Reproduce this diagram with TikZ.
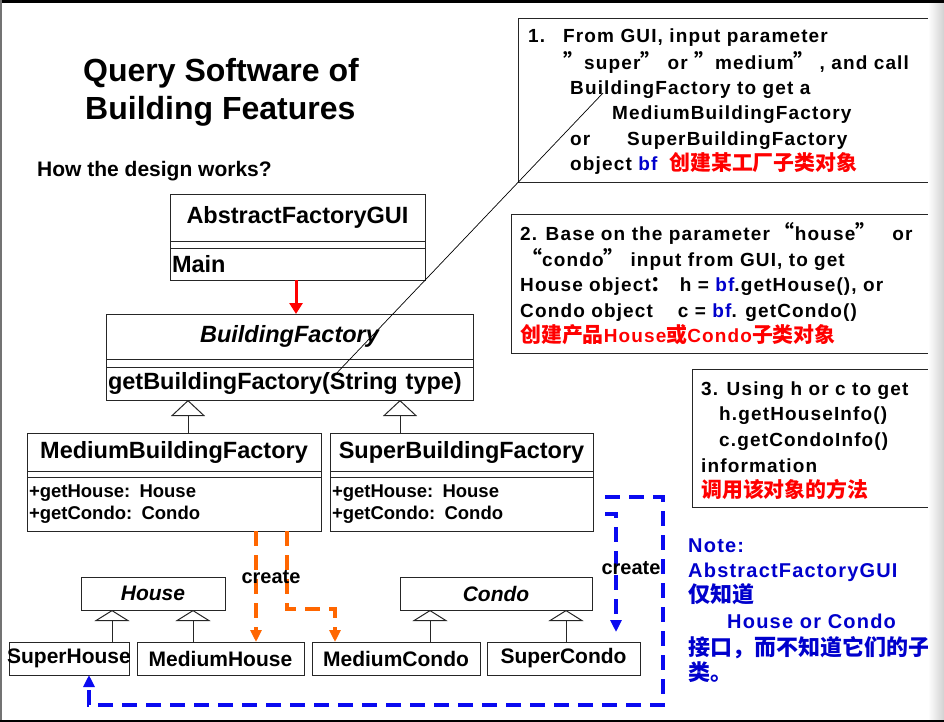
\documentclass[tikz,border=0pt]{standalone}
\usepackage{fontspec}
\setmainfont{Liberation Sans}
\newfontfamily\boxfont{Liberation Sans}[LetterSpace=6]
\newfontfamily\cjk{Noto Sans CJK SC}[Scale=1.1]
\usetikzlibrary{arrows.meta,positioning}
\definecolor{orangeline}{RGB}{255,102,0}
\definecolor{linkblue}{RGB}{10,10,240}
\definecolor{notblue}{RGB}{0,0,204}
\newcommand{\fsz}[1]{\fontsize{#1}{#1}\selectfont}

\begin{document}
\begin{tikzpicture}[x=1pt,y=-1pt]
\tikzstyle{classname}=[draw=black!85,line width=0.9pt,inner sep=0pt,outer sep=0pt,anchor=north west,font=\bfseries\fsz{23.5}]
\tikzstyle{classbody}=[draw=black!85,line width=0.9pt,inner xsep=2pt,inner ysep=0pt,outer sep=0pt,align=left,font=\bfseries\fsz{23.5}]
\tikzstyle{smallclass}=[draw=black!85,line width=0.9pt,inner sep=0pt,outer sep=0pt,anchor=north west,minimum height=33pt,font=\bfseries\fsz{21}]
\tikzstyle{inherit}=[draw=black!85,line width=1pt,-{Triangle[open,length=16pt,width=34pt]}]
\tikzstyle{inheritsm}=[draw=black!85,line width=1pt,-{Triangle[open,length=11pt,width=35pt]}]
\tikzstyle{makeor}=[orangeline,line width=3.6pt,dash pattern=on 15pt off 9pt,-{Triangle[length=12pt,width=11pt]}]
\tikzstyle{makebl}=[linkblue,line width=3.6pt,dash pattern=on 15pt off 9pt,-{Triangle[length=12pt,width=11pt]}]
\tikzstyle{textbox}=[draw=black!85,line width=0.9pt,anchor=north west,inner sep=0pt]
\tikzstyle{boxtxt}=[anchor=base west,inner sep=0pt,font=\boxfont\bfseries\fsz{19}]
\tikzstyle{notetxt}=[anchor=base west,inner sep=0pt,text=notblue,font=\boxfont\bfseries\fsz{20}]

\useasboundingbox (0,0) rectangle (944,722);

\node at (83,82) [anchor=base west,inner sep=0pt,font=\bfseries\fsz{32}] (title1) {Query Software of};
\node at (85,120) [anchor=base west,inner sep=0pt,font=\bfseries\fsz{32}] (title2) {Building Features};
\node at (37,176) [anchor=base west,inner sep=0pt,font=\bfseries\fsz{21}] (howtxt) {How the design works?};

% classes
\node at (170,194) [classname,minimum width=255pt,minimum height=47pt] (agui) {AbstractFactoryGUI};
\node [classbody,below=7pt of agui,text width=251pt,minimum height=32pt] (aguib) {Main};
\draw[draw=black!85,line width=0.9pt] (agui.south west) -- (aguib.north west) (agui.south east) -- (aguib.north east);

\node at (106,314) [classname,minimum width=367pt,minimum height=45pt] (bf) {\itshape BuildingFactory};
\node [classbody,below=8pt of bf,text width=363pt,minimum height=33pt] (bfb) {getBuildingFactory(String type)};
\draw[draw=black!85,line width=0.9pt] (bf.south west) -- (bfb.north west) (bf.south east) -- (bfb.north east);

\node at (27,433) [classname,minimum width=294pt,minimum height=38pt] (mbf) {MediumBuildingFactory};
\node [classbody,below=6pt of mbf,text width=290pt,minimum height=54pt,font=\bfseries\fontsize{18.5}{22}\selectfont] (mbfb) {+getHouse: House\\+getCondo: Condo};
\draw[draw=black!85,line width=0.9pt] (mbf.south west) -- (mbfb.north west) (mbf.south east) -- (mbfb.north east);

\node at (330,433) [classname,minimum width=263pt,minimum height=38pt] (sbf) {SuperBuildingFactory};
\node [classbody,below=6pt of sbf,text width=259pt,minimum height=54pt,font=\bfseries\fontsize{18.5}{22}\selectfont] (sbfb) {+getHouse: House\\+getCondo: Condo};
\draw[draw=black!85,line width=0.9pt] (sbf.south west) -- (sbfb.north west) (sbf.south east) -- (sbfb.north east);

\node at (81,577) [smallclass,minimum width=144pt] (house) {\itshape House};
\node at (400,577) [smallclass,minimum width=192pt] (condo) {\itshape Condo};

\node at (9,642) [smallclass,minimum width=120pt,inner xsep=-2pt] (sh) {SuperHouse};
\node at (137,642) [smallclass,minimum width=167pt] (mh) {MediumHouse};
\node at (312,642) [smallclass,minimum width=168pt] (mc) {MediumCondo};
\node at (487,642) [smallclass,minimum width=153pt] (scn) {SuperCondo};

% generalisation
\draw[inherit] (mbf.north -| 188,0) -- (bfb.south -| 188,0);
\draw[inherit] (sbf.north -| 400,0) -- (bfb.south -| 400,0);
\draw[inheritsm] (sh.north -| 112,0) -- (house.south -| 112,0);
\draw[inheritsm] (mh.north -| 193,0) -- (house.south -| 193,0);
\draw[inheritsm] (mc.north -| 430,0) -- (condo.south -| 430,0);
\draw[inheritsm] (scn.north -| 566,0) -- (condo.south -| 566,0);

\draw[red,line width=3pt,-{Triangle[length=11pt,width=13pt]}] (aguib.south -| 296,0) -- (bf.north -| 296,0);

% create links
\draw[makeor] (mbfb.south -| 256,0) -- (mh.north -| 256,0);
\draw[makeor] (mbfb.south -| 287,0) |- (335,609) -- (mc.north -| 335,0);
\draw[makebl,shorten <=12pt] (sbfb.east |- 0,497) -| (663,705) -| (sh.south -| 89,0);
\draw[makebl,shorten <=12pt,shorten >=10pt] (sbfb.east |- 0,514) -| (scn.north -| 616,0);

\node at (271,577) [font=\bfseries\fsz{20},inner sep=0pt] (crtor) {create};
\node at (631,568) [font=\bfseries\fsz{20},inner sep=0pt] (crtbl) {create};

% text boxes
\node at (518,18) [textbox,minimum width=440pt,minimum height=164pt] (box1) {};
\node at (511,214) [textbox,minimum width=447pt,minimum height=139pt] (box2) {};
\node at (692,369) [textbox,minimum width=266pt,minimum height=138pt] (box3) {};

\coordinate (hintS) at (333,377);
\coordinate (hintE) at (603,93);
\draw[line width=0.7pt] (hintS) -- (hintE);

\node at (528,43) [boxtxt] (b1n) {1.};
\node at (563,43) [boxtxt] (b1a) {From GUI, input parameter};
\node at (563,70) [boxtxt] (b1b) {{\cjk ”}super{\cjk ”} or {\cjk ”}medium{\cjk ”}\hspace{5pt}, and call};
\node at (570,95) [boxtxt] (b1c) {BuildingFactory to get a};
\node at (612,120) [boxtxt] (b1d) {MediumBuildingFactory};
\node at (570,146) [boxtxt] (b1e) {or};
\node at (627,146) [boxtxt] (b1f) {SuperBuildingFactory};
\node at (570,171) [boxtxt] (b1g) {object \textcolor{notblue}{bf}\hspace{12pt}\textcolor{red}{\cjk 创建某工厂子类对象}};

\node at (520,240) [boxtxt] (b2a) {2. Base on the parameter\hspace{4pt}{\cjk “}house{\cjk ”}\hspace{16pt}or};
\node at (521,266) [boxtxt] (b2b) {{\cjk “}condo{\cjk ”}\hspace{6pt}input from GUI, to\hspace{6pt}get};
\node at (520,291) [boxtxt] (b2c) {House object{\cjk ：}\hspace{8pt}h = \textcolor{notblue}{bf}.getHouse(), or};
\node at (520,317) [boxtxt] (b2d) {Condo object\hspace{25pt}c = \textcolor{notblue}{bf}. getCondo()};
\node at (520,342) [boxtxt,text=red] (b2e) {{\cjk 创建产品}House{\cjk 或}Condo{\cjk 子类对象}};

\node at (701,395) [boxtxt] (b3a) {3. Using h or c to get};
\node at (719,420) [boxtxt] (b3b) {h.getHouseInfo()};
\node at (719,446) [boxtxt] (b3c) {c.getCondoInfo()};
\node at (701,472) [boxtxt] (b3d) {information};
\node at (701,497) [boxtxt,text=red] (b3e) {\cjk 调用该对象的方法};

% note
\node at (688,552) [notetxt] (nta) {Note:};
\node at (688,577) [notetxt] (ntb) {AbstractFactoryGUI};
\node at (688,602) [notetxt] (ntc) {\cjk 仅知道};
\node at (727,628) [notetxt] (ntd) {House or Condo};
\node at (688,655) [notetxt] (nte) {\cjk 接口，而不知道它们的子};
\node at (688,680) [notetxt] (ntf) {\cjk 类。};

% slide frame
\shade[left color=white,right color=black!18] (928,0) rectangle (944,722);
\draw[line width=2.6pt] (0,1.3) -- (944,1.3);
\draw[black!55,line width=1.6pt] (0.8,0) -- (0.8,722);
\draw[line width=2pt] (0,721) -- (944,721);

\end{tikzpicture}
\end{document}
